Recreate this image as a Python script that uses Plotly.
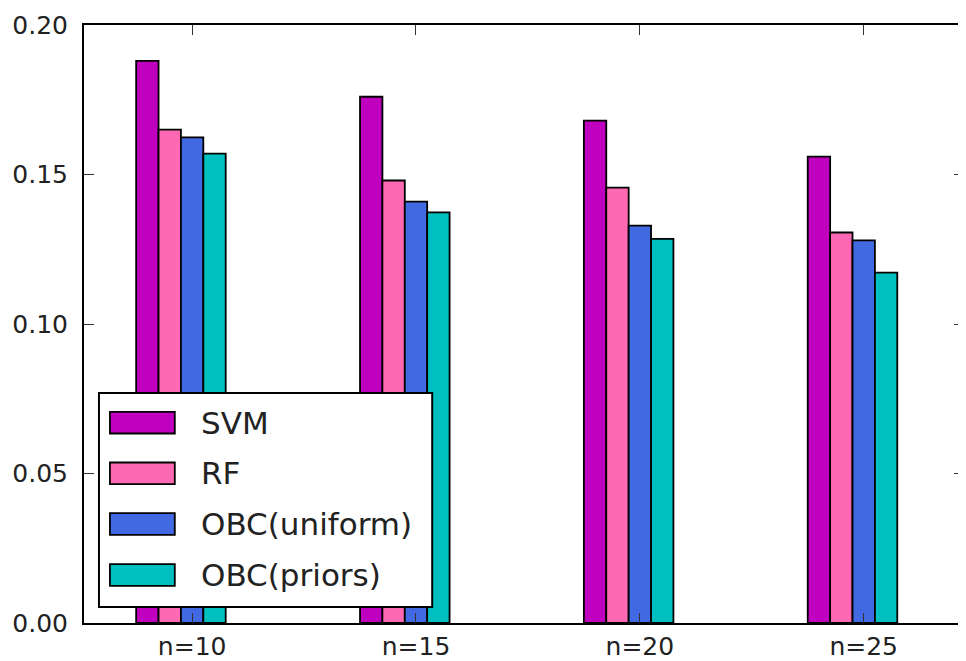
import plotly.graph_objects as go

categories = ["n=10", "n=15", "n=20", "n=25"]
series_names = ["SVM", "RF", "OBC(uniform)", "OBC(priors)"]
svm = [0.188, 0.176, 0.168, 0.156]
rf = [0.165, 0.148, 0.1456, 0.1306]
obc_uniform = [0.1624, 0.1409, 0.1329, 0.128]
obc_priors = [0.157, 0.1373, 0.1285, 0.1172]
y_ticks = [0.00, 0.05, 0.10, 0.15, 0.20]

colors = ["#bf00bf", "#ff69b4", "#4169e1", "#00bfbf"]
all_values = [svm, rf, obc_uniform, obc_priors]
offsets = [-0.25, -0.15, -0.05, 0.05]
bar_w = 0.1

# page body has an 8px margin; compensate so the figure fills the window
PAD = 8
W, H = 966 - PAD, 661 - PAD
ml, mt = 84 - PAD, 25 - PAD
mb = H - (623 - PAD)
mr = 0
pw, ph = W - ml - mr, H - mt - mb

xs = list(range(len(categories)))

fig = go.Figure()
for name, vals, col, off in zip(series_names, all_values, colors, offsets):
    fig.add_trace(go.Bar(
        x=xs, y=vals, name=name, width=bar_w, offset=off,
        marker=dict(color=col, line=dict(color="black", width=1.8)),
        showlegend=False,
    ))

font = dict(family="DejaVu Sans", size=25, color="#222222")

fig.update_layout(
    width=W, height=H,
    margin=dict(l=ml, r=mr, t=mt, b=mb, pad=0),
    paper_bgcolor="white", plot_bgcolor="white",
    barmode="overlay",
    font=font,
    xaxis=dict(
        range=[-0.483, 3.448], tickmode="array", tickvals=xs, ticktext=categories,
        ticks="inside", ticklen=10, tickwidth=1, tickcolor="#333",
        showline=True, linecolor="black", linewidth=2, mirror="allticks",
        showgrid=False, zeroline=False, tickfont=font,
    ),
    yaxis=dict(
        range=[0, 0.2], tickmode="array", tickvals=y_ticks,
        ticktext=[f"{v:.2f}" for v in y_ticks],
        ticks="inside", ticklen=10, tickwidth=1, tickcolor="#333",
        showline=True, linecolor="black", linewidth=2, mirror="allticks",
        showgrid=False, zeroline=False, tickfont=font, ticklabelstandoff=9,
    ),
)

def px_x(p):
    return (p - PAD - ml) / pw

def px_y(p):
    return (H - mb - (p - PAD)) / ph

shapes = []
annotations = []
shapes.append(dict(type="rect", xref="paper", yref="paper",
                   x0=px_x(99), x1=px_x(433), y0=px_y(607), y1=px_y(393),
                   line=dict(color="black", width=2), fillcolor="white", layer="above"))
row_centers = [422.7, 473.3, 524.0, 575.0]
for name, col, cy in zip(series_names, colors, row_centers):
    shapes.append(dict(type="rect", xref="paper", yref="paper",
                       x0=px_x(110), x1=px_x(175), y0=px_y(cy + 10.8), y1=px_y(cy - 10.8),
                       line=dict(color="black", width=1.8), fillcolor=col, layer="above"))
    annotations.append(dict(xref="paper", yref="paper", x=px_x(199), y=px_y(cy),
                            text=name, showarrow=False, xanchor="left", yanchor="middle",
                            font=dict(family="DejaVu Sans", size=31, color="#222222")))
fig.update_layout(shapes=shapes, annotations=annotations)

fig.write_html("out.html")
